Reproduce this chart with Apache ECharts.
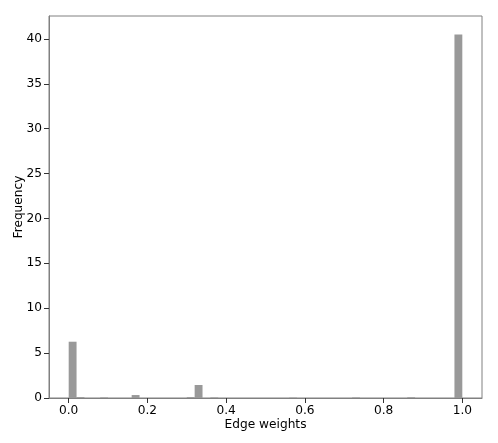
<!DOCTYPE html>
<html>
<head>
<meta charset="utf-8">
<script src="https://cdn.jsdelivr.net/npm/echarts@6/dist/echarts.min.js"></script>
<style>
html,body{margin:0;padding:0;background:#fff;}
#chart{width:498px;height:443px;}
</style>
</head>
<body>
<div id="chart"></div>
<script>
// Histogram bins (left edges) and heights
const binStarts = [0.00, 0.02, 0.08, 0.16, 0.30, 0.32, 0.36, 0.56, 0.72, 0.86, 0.98];
const heights   = [6.27, 0.10, 0.06, 0.33, 0.10, 1.45, 0.06, 0.04, 0.06, 0.08, 40.5];
const binWidth = 0.02;
const xTicks = [0, 0.2, 0.4, 0.6, 0.8, 1.0];
const yTicks = [0, 5, 10, 15, 20, 25, 30, 35, 40];
const xLabel = 'Edge weights';
const yLabel = 'Frequency';

const data = binStarts.map((s, i) => [s, s + binWidth, heights[i]]);
const font = 'DejaVu Sans';
const axisCol = '#808080';

const chart = echarts.init(document.getElementById('chart'), null, {renderer: 'canvas'});
chart.setOption({
  animation: false,
  backgroundColor: '#ffffff',
  grid: {left: 49, right: 16, top: 16, bottom: 45, containLabel: false, outerBoundsMode: 'none',
    show: true, borderColor: axisCol, borderWidth: 1, backgroundColor: 'transparent'},
  xAxis: {
    type: 'value', min: -0.05, max: 1.05,
    name: xLabel, nameLocation: 'middle', nameGap: 21, nameMoveOverlap: false,
    nameTextStyle: {fontFamily: font, fontSize: 12.2, color: '#000'},
    axisLine: {show: true, onZero: false, lineStyle: {color: axisCol}},
    axisTick: {show: true, length: 5, customValues: xTicks, lineStyle: {color: '#333'}},
    axisLabel: {customValues: xTicks, margin: 7, fontFamily: font, fontSize: 12.2, color: '#000',
      formatter: v => v.toFixed(1)},
    splitLine: {show: false}
  },
  yAxis: {
    type: 'value', min: 0, max: 42.55,
    name: yLabel, nameLocation: 'middle', nameGap: 24, nameRotate: 90, nameMoveOverlap: false,
    nameTextStyle: {fontFamily: font, fontSize: 12.2, color: '#000'},
    axisLine: {show: true, onZero: false, lineStyle: {color: axisCol}},
    axisTick: {show: true, length: 5, customValues: yTicks, lineStyle: {color: '#333'}},
    axisLabel: {customValues: yTicks, margin: 7, fontFamily: font, fontSize: 12.2, color: '#000'},
    splitLine: {show: false}
  },
  series: [{
    type: 'custom',
    data: data,
    encode: {x: [0, 1], y: 2},
    renderItem: function (params, api) {
      const p0 = api.coord([api.value(0), api.value(2)]);
      const p1 = api.coord([api.value(1), 0]);
      return {
        type: 'rect',
        shape: {x: p0[0], y: p0[1], width: p1[0] - p0[0], height: p1[1] - p0[1]},
        style: {fill: '#999999'}
      };
    }
  }]
});
</script>
</body>
</html>
